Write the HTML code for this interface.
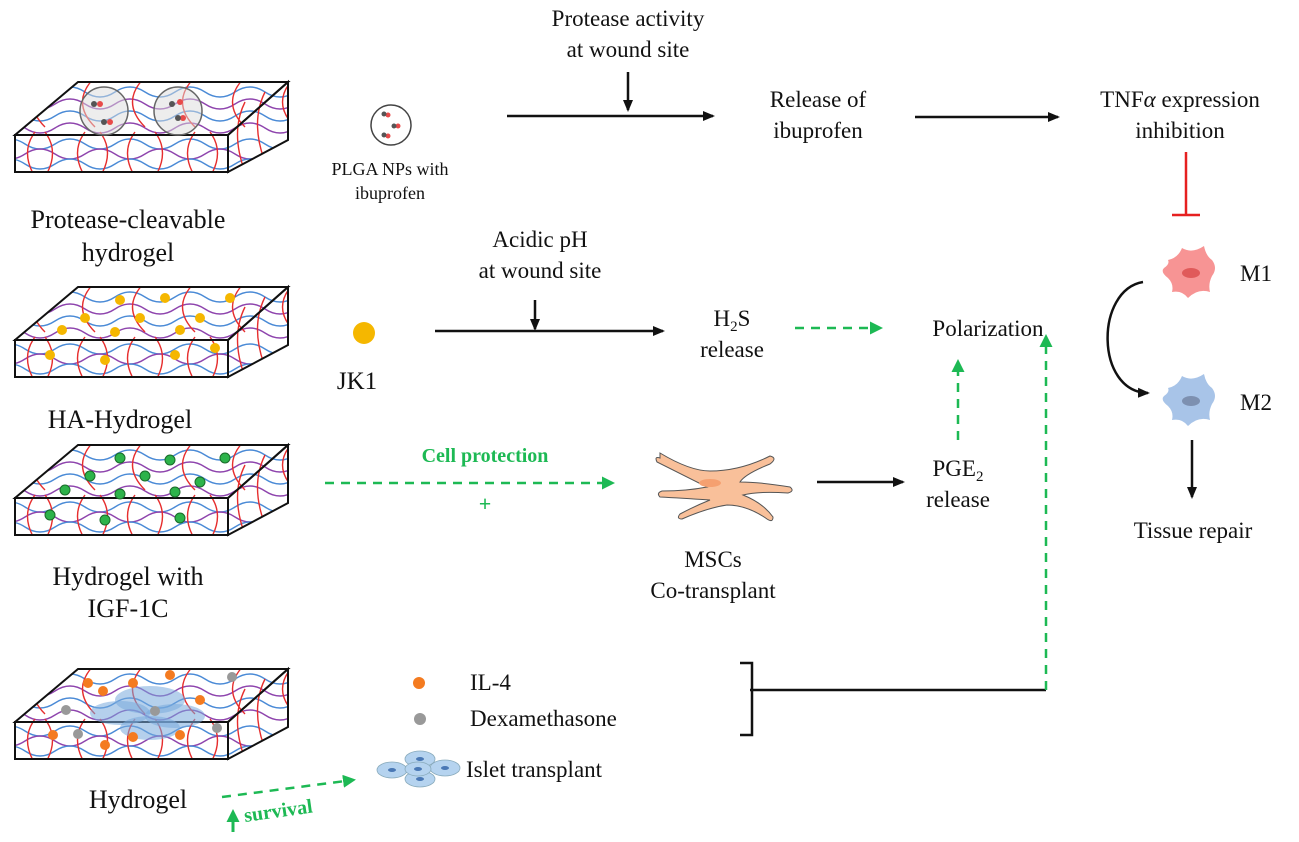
<!DOCTYPE html>
<html><head><meta charset="utf-8"><style>
html,body{margin:0;padding:0;background:#fff}
svg{display:block}
text{font-family:"Liberation Serif",serif;fill:#111}
</style></head><body>
<svg width="1299" height="842" viewBox="0 0 1299 842" xmlns="http://www.w3.org/2000/svg">
<defs>
<marker id="ab" markerWidth="12" markerHeight="12" refX="10" refY="6" orient="auto" markerUnits="userSpaceOnUse"><path d="M0,1 L12,6 L0,11 z" fill="#111"/></marker>
<marker id="ag" markerWidth="13" markerHeight="13" refX="10" refY="6.5" orient="auto" markerUnits="userSpaceOnUse"><path d="M0,0 L13,6.5 L0,13 z" fill="#1db954"/></marker>
<clipPath id="ct"><polygon points="63,0 273,0 213,53 0,53"/></clipPath>
<clipPath id="cf"><rect x="0" y="53" width="213" height="37"/></clipPath>
<clipPath id="cs"><polygon points="213,53 273,0 273,58 213,90"/></clipPath>
<g id="waves">
<path d="M-20,10 q15,-10 30,0 t30,0 t30,0 t30,0 t30,0 t30,0 t30,0 t30,0 t30,0 t30,0" fill="none" stroke="#4a8ad6" stroke-width="1.4"/>
<path d="M-20,22 q15,-10 30,0 t30,0 t30,0 t30,0 t30,0 t30,0 t30,0 t30,0 t30,0 t30,0" fill="none" stroke="#8e44ad" stroke-width="1.4"/>
<path d="M-20,34 q15,-10 30,0 t30,0 t30,0 t30,0 t30,0 t30,0 t30,0 t30,0 t30,0 t30,0" fill="none" stroke="#4a8ad6" stroke-width="1.4"/>
<path d="M-20,46 q15,-10 30,0 t30,0 t30,0 t30,0 t30,0 t30,0 t30,0 t30,0 t30,0 t30,0" fill="none" stroke="#8e44ad" stroke-width="1.4"/>
<path d="M-20,62 q15,-10 30,0 t30,0 t30,0 t30,0 t30,0 t30,0 t30,0 t30,0 t30,0 t30,0" fill="none" stroke="#4a8ad6" stroke-width="1.4"/>
<path d="M-20,72 q15,10 30,0 t30,0 t30,0 t30,0 t30,0 t30,0 t30,0 t30,0 t30,0 t30,0" fill="none" stroke="#8e44ad" stroke-width="1.4"/>
<path d="M-20,82 q15,-10 30,0 t30,0 t30,0 t30,0 t30,0 t30,0 t30,0 t30,0 t30,0 t30,0" fill="none" stroke="#4a8ad6" stroke-width="1.4"/>
<path d="M30,-5 q-25,25 0,50 M80,-5 q-25,25 0,50 M130,-5 q-25,25 0,50 M180,-5 q-25,25 0,50 M230,-5 q-25,25 0,50 M280,-5 q-25,25 0,50 M20,50 q-15,20 0,45 M30,50 q15,20 0,45 M70,50 q-15,20 0,45 M85,50 q15,20 0,45 M120,50 q-15,20 0,45 M140,50 q15,20 0,45 M180,50 q-15,20 0,45 M195,50 q15,20 0,45 M230,20 q-15,30 0,70 M250,10 q-15,30 0,70" fill="none" stroke="#e62e2e" stroke-width="1.4"/>
</g>
<g id="slab">
<polygon points="63,0 273,0 213,53 0,53" fill="#fff"/>
<rect x="0" y="53" width="213" height="37" fill="#fff"/>
<polygon points="213,53 273,0 273,58 213,90" fill="#fff"/>
<g clip-path="url(#ct)"><use href="#waves"/></g>
<g clip-path="url(#cf)"><use href="#waves"/></g>
<g clip-path="url(#cs)"><use href="#waves"/></g>
<polygon points="63,0 273,0 213,53 0,53" fill="none" stroke="#111" stroke-width="2"/>
<rect x="0" y="53" width="213" height="37" fill="none" stroke="#111" stroke-width="2"/>
<polygon points="213,53 273,0 273,58 213,90" fill="none" stroke="#111" stroke-width="2"/>
</g>
<path id="mac" d="M-22,-12 q10,-2 14,-12 q10,6 22,-2 q2,10 8,14 q6,8 0,16 q-4,8 -2,16 q-12,-4 -22,6 q-6,-8 -16,-6 q2,-8 -4,-14 q-8,-6 -4,-10 q6,-4 4,-8z"/>
</defs>

<use href="#slab" x="15" y="82"/>
<g fill="rgba(220,220,220,0.5)" stroke="#666" stroke-width="1.5"><circle cx="104" cy="111" r="24"/><circle cx="178" cy="111" r="24"/></g>
<g fill="#e84a4a"><circle cx="100" cy="104" r="3"/><circle cx="110" cy="122" r="3"/><circle cx="180" cy="102" r="3"/><circle cx="183" cy="118" r="3"/></g>
<g fill="#555"><circle cx="94" cy="104" r="3"/><circle cx="104" cy="122" r="3"/><circle cx="172" cy="104" r="3"/><circle cx="178" cy="118" r="3"/></g>

<use href="#slab" x="15" y="287"/>
<g fill="#f5b700"><circle cx="120" cy="300" r="5"/><circle cx="165" cy="298" r="5"/><circle cx="230" cy="298" r="5"/><circle cx="85" cy="318" r="5"/><circle cx="140" cy="318" r="5"/><circle cx="200" cy="318" r="5"/><circle cx="62" cy="330" r="5"/><circle cx="115" cy="332" r="5"/><circle cx="180" cy="330" r="5"/><circle cx="50" cy="355" r="5"/><circle cx="105" cy="360" r="5"/><circle cx="175" cy="355" r="5"/><circle cx="215" cy="348" r="5"/></g>

<use href="#slab" x="15" y="445"/>
<g fill="#2db34a" stroke="#1a6b2a"><circle cx="120" cy="458" r="5"/><circle cx="170" cy="460" r="5"/><circle cx="225" cy="458" r="5"/><circle cx="90" cy="476" r="5"/><circle cx="145" cy="476" r="5"/><circle cx="200" cy="482" r="5"/><circle cx="65" cy="490" r="5"/><circle cx="120" cy="494" r="5"/><circle cx="175" cy="492" r="5"/><circle cx="50" cy="515" r="5"/><circle cx="105" cy="520" r="5"/><circle cx="180" cy="518" r="5"/></g>

<use href="#slab" x="15" y="669"/>
<g fill="rgba(120,170,220,0.55)"><ellipse cx="150" cy="700" rx="35" ry="14"/><ellipse cx="120" cy="713" rx="30" ry="12"/><ellipse cx="175" cy="716" rx="30" ry="12"/><ellipse cx="150" cy="728" rx="30" ry="12"/></g>
<g fill="#f47b20"><circle cx="88" cy="683" r="5"/><circle cx="133" cy="683" r="5"/><circle cx="170" cy="675" r="5"/><circle cx="103" cy="691" r="5"/><circle cx="200" cy="700" r="5"/><circle cx="53" cy="735" r="5"/><circle cx="105" cy="745" r="5"/><circle cx="133" cy="737" r="5"/><circle cx="180" cy="735" r="5"/></g>
<g fill="#999"><circle cx="232" cy="677" r="5"/><circle cx="66" cy="710" r="5"/><circle cx="155" cy="711" r="5"/><circle cx="78" cy="734" r="5"/><circle cx="217" cy="728" r="5"/></g>

<g font-size="26" text-anchor="middle">
<text x="128" y="228">Protease-cleavable</text>
<text x="128" y="261">hydrogel</text>
<text x="120" y="428">HA-Hydrogel</text>
<text x="128" y="585">Hydrogel with</text>
<text x="128" y="617">IGF-1C</text>
<text x="138" y="808">Hydrogel</text>
</g>

<circle cx="391" cy="125" r="20" fill="#fff" stroke="#444" stroke-width="1.5"/>
<g fill="#e84a4a"><circle cx="388" cy="115" r="2.5"/><circle cx="398" cy="126" r="2.5"/><circle cx="388" cy="136" r="2.5"/></g>
<g fill="#555"><circle cx="384" cy="114" r="2.5"/><circle cx="394" cy="126" r="2.5"/><circle cx="384" cy="135" r="2.5"/></g>
<g font-size="18" text-anchor="middle"><text x="390" y="175">PLGA NPs with</text><text x="390" y="199">ibuprofen</text></g>
<g font-size="23" text-anchor="middle">
<text x="628" y="26">Protease activity</text><text x="628" y="57">at wound site</text>
<text x="818" y="107">Release of</text><text x="818" y="138">ibuprofen</text>
<text x="1180" y="107">TNF<tspan font-style="italic">α</tspan> expression</text><text x="1180" y="138">inhibition</text>
</g>
<g stroke="#111" stroke-width="2.5" fill="none">
<line x1="628" y1="72" x2="628" y2="110" marker-end="url(#ab)"/>
<line x1="507" y1="116" x2="713" y2="116" marker-end="url(#ab)"/>
<line x1="915" y1="117" x2="1058" y2="117" marker-end="url(#ab)"/>
</g>
<g stroke="#e62020" stroke-width="2.5"><line x1="1186" y1="152" x2="1186" y2="215"/><line x1="1172" y1="215" x2="1200" y2="215"/></g>

<use href="#mac" x="1190" y="272" fill="#f79494"/>
<ellipse cx="1191" cy="273" rx="9" ry="5" fill="#e05a5a"/>
<use href="#mac" x="1190" y="400" fill="#a8c4e8"/>
<ellipse cx="1191" cy="401" rx="9" ry="5" fill="#7d90b0"/>
<g font-size="23"><text x="1240" y="281">M1</text><text x="1240" y="410">M2</text></g>
<path d="M1143,282 C1095,290 1095,392 1148,393" fill="none" stroke="#111" stroke-width="2.5" marker-end="url(#ab)"/>
<line x1="1192" y1="440" x2="1192" y2="497" stroke="#111" stroke-width="2.5" marker-end="url(#ab)"/>
<text x="1193" y="538" font-size="23" text-anchor="middle">Tissue repair</text>

<circle cx="364" cy="333" r="11" fill="#f5b700"/>
<text x="357" y="389" font-size="25" text-anchor="middle">JK1</text>
<g font-size="23" text-anchor="middle">
<text x="540" y="247">Acidic pH</text><text x="540" y="278">at wound site</text>
<text x="732" y="326">H<tspan font-size="15" dy="5">2</tspan><tspan dy="-5">S</tspan></text><text x="732" y="357">release</text>
<text x="988" y="336">Polarization</text>
<text x="958" y="476">PGE<tspan font-size="15" dy="5">2</tspan></text><text x="958" y="507">release</text>
<text x="713" y="567">MSCs</text><text x="713" y="598">Co-transplant</text>
</g>
<g stroke="#111" stroke-width="2.5" fill="none">
<line x1="535" y1="300" x2="535" y2="329" marker-end="url(#ab)"/>
<line x1="435" y1="331" x2="663" y2="331" marker-end="url(#ab)"/>
<line x1="817" y1="482" x2="903" y2="482" marker-end="url(#ab)"/>
<line x1="750" y1="690" x2="1046" y2="690"/>
<path d="M740,663 H752 V735 H740"/>
</g>
<g stroke="#1db954" stroke-width="2.5" fill="none" stroke-dasharray="9,7">
<line x1="795" y1="328" x2="880" y2="328" marker-end="url(#ag)"/>
<line x1="958" y1="440" x2="958" y2="362" marker-end="url(#ag)"/>
<line x1="1046" y1="690" x2="1046" y2="337" marker-end="url(#ag)"/>
<line x1="325" y1="483" x2="612" y2="483" marker-end="url(#ag)"/>
<line x1="222" y1="797" x2="353" y2="780" marker-end="url(#ag)"/>
</g>
<g font-family="Liberation Serif,serif" font-weight="bold">
<text x="485" y="462" font-size="20" text-anchor="middle" style="fill:#1db954">Cell protection</text>
<text x="485" y="511" font-size="22" text-anchor="middle" style="fill:#1db954">+</text>
<text x="245" y="822" font-size="20" transform="rotate(-8 245 822)" style="fill:#1db954">survival</text>
</g>
<line x1="233" y1="832" x2="233" y2="812" stroke="#1db954" stroke-width="3" marker-end="url(#ag)"/>

<path d="M660,453 q30,18 50,18 q30,0 60,-15 q8,2 0,8 q-25,10 -30,18 q20,0 50,5 q5,4 -2,6 q-30,-2 -45,2 q20,8 30,22 q0,6 -6,2 q-20,-14 -40,-14 q-20,3 -45,14 q-6,0 -2,-5 q15,-8 30,-14 q-30,-2 -50,-3 q-4,-4 2,-6 q25,0 45,-4 q-20,-10 -50,-25 q-3,-6 3,-4z" fill="#f9c09a" stroke="#555" stroke-width="1"/>
<ellipse cx="710" cy="483" rx="11" ry="4" fill="#f5a070"/>

<circle cx="419" cy="683" r="6" fill="#f47b20"/>
<circle cx="420" cy="719" r="6" fill="#999"/>
<g font-size="23"><text x="470" y="690">IL-4</text><text x="470" y="726">Dexamethasone</text><text x="466" y="777">Islet transplant</text></g>
<g fill="#b5d3ef" stroke="#8ab" stroke-width="0.8">
<ellipse cx="392" cy="770" rx="15" ry="8"/><ellipse cx="420" cy="759" rx="15" ry="8"/><ellipse cx="420" cy="779" rx="15" ry="8"/><ellipse cx="445" cy="768" rx="15" ry="8"/><ellipse cx="418" cy="769" rx="13" ry="7"/>
</g>
<g fill="#4a78b5"><ellipse cx="392" cy="770" rx="4" ry="2"/><ellipse cx="420" cy="759" rx="4" ry="2"/><ellipse cx="420" cy="779" rx="4" ry="2"/><ellipse cx="445" cy="768" rx="4" ry="2"/><ellipse cx="418" cy="769" rx="4" ry="2"/></g>
</svg>
</body></html>
